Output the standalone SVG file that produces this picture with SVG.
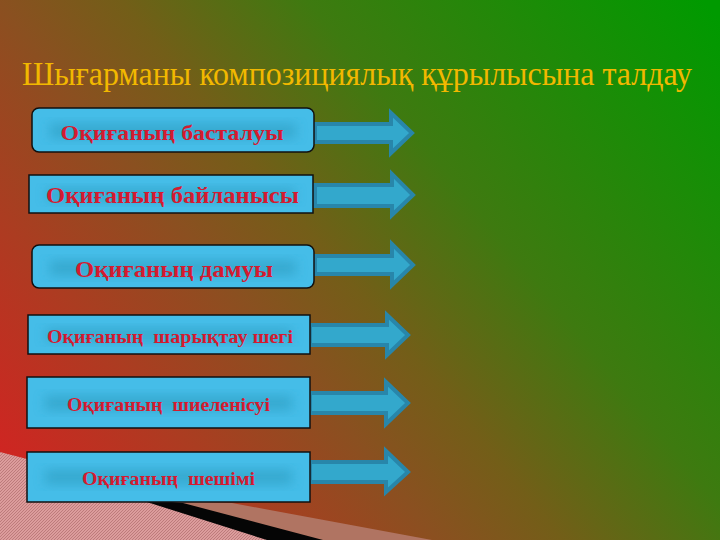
<svg xmlns="http://www.w3.org/2000/svg" width="720" height="540" viewBox="0 0 720 540">
<style>
.box{fill:#45bde8;stroke:#101010;stroke-width:1.5}
.band{fill:#2f9fc2;opacity:0.7;filter:url(#blur)}
.lbl{font-family:"Liberation Serif","DejaVu Serif",serif;font-weight:bold;fill:#d41a30;text-anchor:middle}
.arrow{fill:#33a8cc;stroke:#2886aa;stroke-width:4;stroke-linejoin:miter}
.title{font-family:"Liberation Serif","DejaVu Serif",serif;fill:#f2b800}
</style>
<defs>
<linearGradient id="bg" gradientUnits="userSpaceOnUse" x1="60" y1="560" x2="720" y2="20">
<stop offset="0" stop-color="#d42222"/>
<stop offset="0.2" stop-color="#ac3c21"/>
<stop offset="0.36" stop-color="#8a5020"/>
<stop offset="0.47" stop-color="#735e18"/>
<stop offset="0.64" stop-color="#3e7a10"/>
<stop offset="1" stop-color="#009a00"/>
</linearGradient>
<pattern id="hatch" width="3" height="3" patternUnits="userSpaceOnUse">
<rect width="3" height="3" fill="#dc9c9c"/>
<path d="M0,3 L3,0" stroke="#b57272" stroke-width="0.8"/>
</pattern>
<filter id="blur" x="-20%" y="-50%" width="140%" height="200%"><feGaussianBlur stdDeviation="6"/></filter>
</defs>
<rect width="720" height="540" fill="url(#bg)"/>
<g id="decoration">
<polygon points="150,500 232,503 432,540 0,540" fill="#b07462"/>
<polygon points="150,500 183,503 323,540 0,540" fill="#050505"/>
<path d="M0,452 Q60,466 110,490 L150,503 L267,540 L0,540 Z" fill="url(#hatch)"/>
</g>
<text class="title" x="22" y="85" font-size="33" textLength="670" lengthAdjust="spacingAndGlyphs">Шығарманы композициялық құрылысына талдау</text>
<g id="connectors">
<path class="arrow" d="M315,124 L391,124 L391,113 L412,133 L391,153 L391,142 L315,142 Z"/>
<path class="arrow" d="M315,185 L392,185 L392,174 L413,195 L392,215 L392,206 L315,206 Z"/>
<path class="arrow" d="M315,256 L392,256 L392,244 L413,265 L392,285 L392,274 L315,274 Z"/>
<path class="arrow" d="M310,325 L387,325 L387,315 L408,335 L387,355 L387,345 L310,345 Z"/>
<path class="arrow" d="M310,393 L386,393 L386,382 L408,403 L386,424 L386,413 L310,413 Z"/>
<path class="arrow" d="M310,462 L386,462 L386,451 L408,472 L386,492 L386,482 L310,482 Z"/>
</g>
<g id="node1">
<rect class="box" x="32" y="108" width="282" height="44" rx="7"/>
<rect class="band" x="50" y="124" width="246" height="14"/>
<text class="lbl" x="172" y="140" font-size="22" textLength="223" lengthAdjust="spacingAndGlyphs">Оқиғаның басталуы</text>
</g>
<g id="node2">
<rect class="box" x="29" y="175" width="284" height="38"/>
<rect class="band" x="47" y="189" width="248" height="12"/>
<text class="lbl" x="172.5" y="203" font-size="23" textLength="253" lengthAdjust="spacingAndGlyphs">Оқиғаның байланысы</text>
</g>
<g id="node3">
<rect class="box" x="32" y="245" width="282" height="43" rx="7"/>
<rect class="band" x="50" y="261" width="246" height="14"/>
<text class="lbl" x="174" y="277" font-size="23" textLength="198" lengthAdjust="spacingAndGlyphs">Оқиғаның дамуы</text>
</g>
<g id="node4">
<rect class="box" x="28" y="315" width="282" height="39"/>
<rect class="band" x="46" y="329" width="246" height="12"/>
<text class="lbl" x="170" y="343" font-size="18" textLength="246" lengthAdjust="spacingAndGlyphs" xml:space="preserve">Оқиғаның  шарықтау шегі</text>
</g>
<g id="node5">
<rect class="box" x="27" y="377" width="283" height="51"/>
<rect class="band" x="45" y="396" width="247" height="14"/>
<text class="lbl" x="168.5" y="411" font-size="18" textLength="203" lengthAdjust="spacingAndGlyphs" xml:space="preserve">Оқиғаның  шиеленісуі</text>
</g>
<g id="node6">
<rect class="box" x="27" y="452" width="283" height="50"/>
<rect class="band" x="45" y="470" width="247" height="14"/>
<text class="lbl" x="168.5" y="485" font-size="18" textLength="173" lengthAdjust="spacingAndGlyphs" xml:space="preserve">Оқиғаның  шешімі</text>
</g>
</svg>
